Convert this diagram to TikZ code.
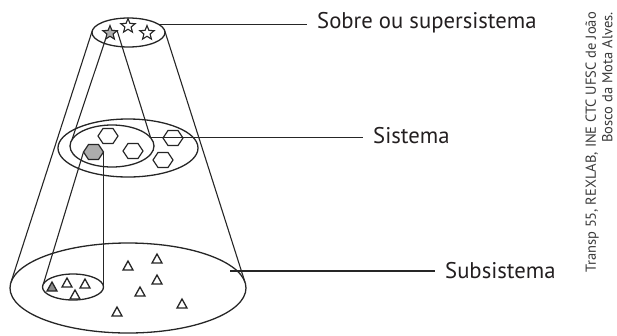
\documentclass[tikz,border=0pt]{standalone}
\usepackage{fontspec}
\setmainfont{PT Sans}
\usetikzlibrary{shapes.geometric}
\definecolor{ink}{HTML}{262626}
\definecolor{shade}{HTML}{ADADAD}
\definecolor{shadedark}{HTML}{8A8A8A}
\definecolor{labeltext}{HTML}{231F20}
\definecolor{credit}{HTML}{3A3A3A}

\begin{document}
\begin{tikzpicture}[x=1pt,y=-1pt,
  level/.style={ellipse, draw=ink, line width=1.3pt, inner sep=0pt, outer sep=0pt},
  ray/.style={draw=ink, line width=1.1pt},
  leader/.style={draw=ink, line width=1.3pt},
  tag/.style={font=\fontsize{22.7}{26}\selectfont, text=labeltext,
    inner xsep=10pt, inner ysep=0pt, anchor=base west},
  starmark/.style={star, star points=5, star point ratio=2.3, minimum size=15pt,
    inner sep=0pt, outer sep=0pt, draw=ink, line width=1.1pt, fill=white},
  hexa/.pic={
    \draw[ink, line width=1.2pt, fill=#1]
      (-10,0) -- (-5,7.5) -- (5,7.5) -- (10,0) -- (5,-7.5) -- (-5,-7.5) -- cycle;
    \coordinate (-l) at (-10,0);
    \coordinate (-r) at (10,0);
  },
  tri/.pic={
    \draw[ink, line width=1.3pt, line join=miter, fill=#1]
      (-5,4) -- (5,4) -- (0,-5) -- cycle;
  }
]
\useasboundingbox (0,0) rectangle (617,335);

% the three levels of the cone
\node[level, minimum width=73pt, minimum height=29pt] (super) at (128.5,32.5) {};
\node[level, minimum width=140pt, minimum height=58pt] (sysout) at (128,148) {};
\node[level, minimum width=84pt, minimum height=42pt] (sysin) at (112,146) {};
\node[level, minimum width=236pt, minimum height=90pt] (sub) at (128,288) {};
\node[level, minimum width=61pt, minimum height=26pt] (subin) at (73,287) {};

% outer cone
\draw[ray] (super.177) -- (sub.177);
\draw[ray] (super.3) -- (sub.3);

% stars of the supersystem
\node[starmark, fill=shade] (s1) at (110,33) {};
\node[starmark] (s2) at (128,26) {};
\node[starmark] (s3) at (147,33) {};

% cone from the grey star down to the system
\draw[ray] (s1.outer point 3) -- (sysin.171);
\draw[ray] (s1.outer point 5) -- (sysin.12);

% hexagons of the system
\pic (hg) at (93.5,152) {hexa=shade};
\pic (h1) at (108,136) {hexa=white};
\pic (h2) at (133,151) {hexa=white};
\pic (h3) at (173,138) {hexa=white};
\pic (h4) at (163,160) {hexa=white};

% cone from the grey hexagon down to the subsystem
\draw[ray] (hg-l) -- (subin.174);
\draw[ray] (hg-r) -- (subin.east);

% triangles of the subsystems
\pic (t0) at (52,287) {tri=shadedark};
\pic (t1) at (67,283) {tri=white};
\pic (t2) at (85,284) {tri=white};
\pic (t3) at (75,295) {tri=white};
\pic (t4) at (128,266) {tri=white};
\pic (t5) at (157,259) {tri=white};
\pic (t6) at (157,280) {tri=white};
\pic (t7) at (140,292) {tri=white};
\pic (t8) at (182,304) {tri=white};
\pic (t9) at (117,312) {tri=white};

% labels with their leader lines
\node[tag] (lsuper) at (307,28.5) {Sobre ou supersistema};
\draw[leader] (super.14) -- (super.14 -| lsuper.west);

\node[tag] (lsys) at (363,143.5) {Sistema};
\draw[leader] (sysin.12) -- (sysin.12 -| lsys.west);

\coordinate (subpin) at (230,271);
\node[tag] (lsub) at (435,278) {Subsistema};
\draw[leader] (subpin) -- (subpin -| lsub.west);

% source note
\node[rotate=90, anchor=east, align=right, inner sep=0pt, text=credit,
  font=\fontsize{14.5}{16.5}\selectfont] (note) at (599,12)
  {Transp 55, REXLAB, INE CTC UFSC de João\\Bosco da Mota Alves.};
\end{tikzpicture}
\end{document}
